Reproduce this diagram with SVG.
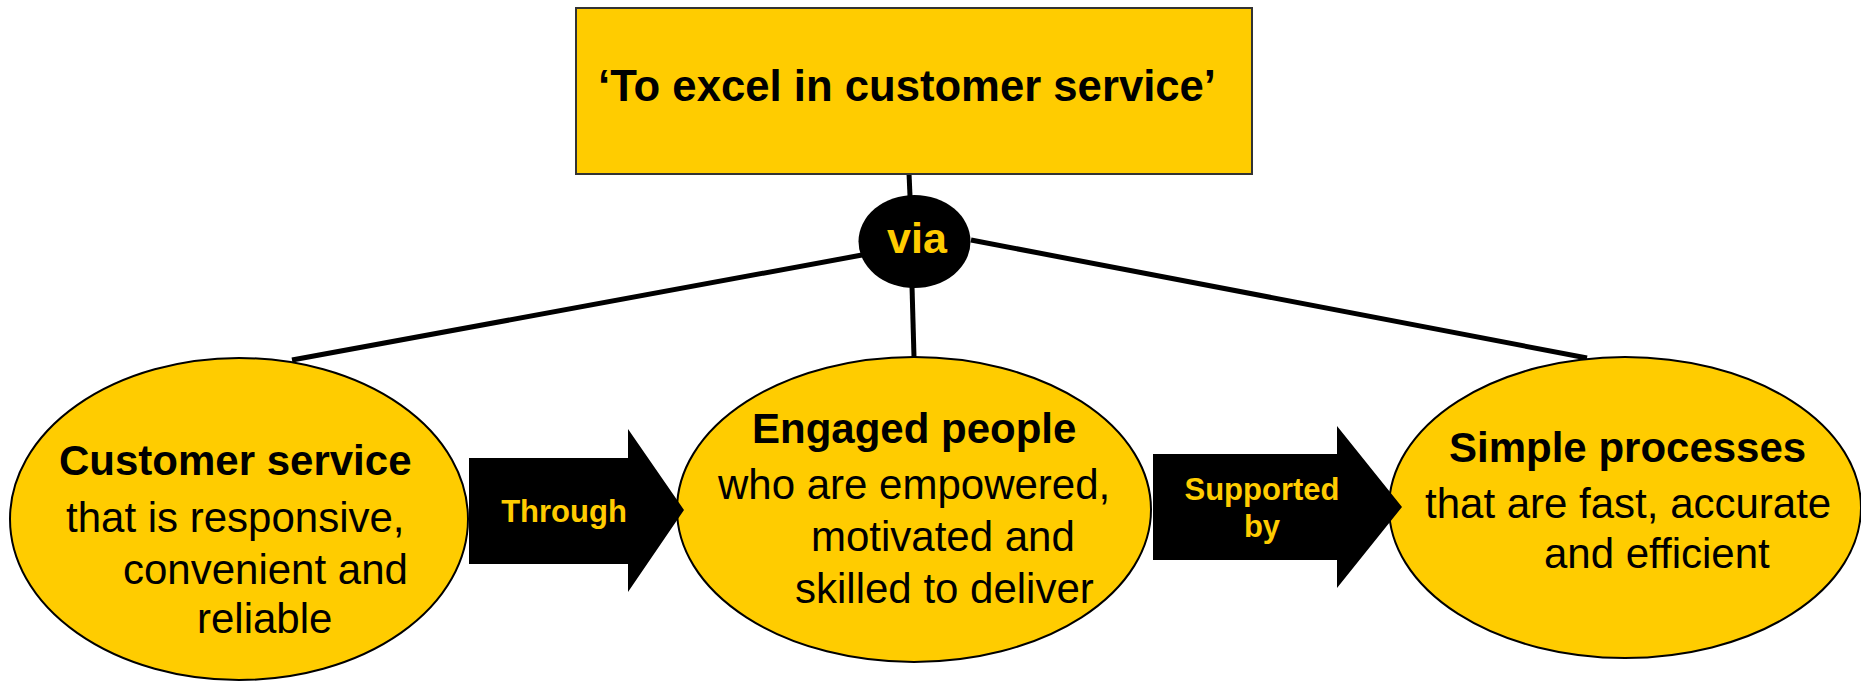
<svg xmlns="http://www.w3.org/2000/svg" width="1861" height="681" viewBox="0 0 1861 681">
  <style>
    .box { fill: #FFCC00; stroke: #333333; stroke-width: 2; }
    .oval { fill: #FFCC00; stroke: #000000; stroke-width: 2; }
    .link { stroke: #000000; stroke-width: 5; fill: none; stroke-linecap: butt; }
    .arrow { fill: #000000; }
    .t { font-family: "Liberation Sans", Arial, sans-serif; fill: #000000; }
    .big { font-size: 42px; }
    .bold { font-weight: bold; }
    .lbl { font-family: "Liberation Sans", Arial, sans-serif; font-weight: bold; fill: #FFCC00; font-size: 31px; }
  </style>

  <!-- connectors from the goal through "via" to the three pillars -->
  <g id="connectors">
    <line class="link" x1="909" y1="173" x2="910" y2="196"/>
    <line class="link" x1="862" y1="255" x2="292" y2="360"/>
    <line class="link" x1="971" y1="240" x2="1587" y2="358"/>
    <line class="link" x1="912" y1="286" x2="914" y2="357"/>
  </g>

  <g id="goal">
    <rect class="box" x="576" y="8" width="676" height="166"/>
    <text class="t bold" x="598" y="101" font-size="44" textLength="618" lengthAdjust="spacingAndGlyphs">‘To excel in customer service’</text>
  </g>

  <g id="via">
    <ellipse cx="914.5" cy="241.5" rx="56" ry="46.5" fill="#000000"/>
    <text class="lbl" x="917" y="253" text-anchor="middle" style="font-size:43px">via</text>
  </g>

  <g id="customer-service">
    <ellipse class="oval" cx="239" cy="519" rx="229" ry="161"/>
    <text class="t big bold" x="59" y="475">Customer service</text>
    <text class="t big" x="66" y="532">that is responsive,</text>
    <text class="t big" x="123" y="584">convenient and</text>
    <text class="t big" x="197" y="633">reliable</text>
  </g>

  <g id="engaged-people">
    <ellipse class="oval" cx="914" cy="509.5" rx="237" ry="152.5"/>
    <text class="t big bold" x="752" y="443">Engaged people</text>
    <text class="t big" x="718" y="499">who are empowered,</text>
    <text class="t big" x="811" y="551">motivated and</text>
    <text class="t big" x="795" y="603">skilled to deliver</text>
  </g>

  <g id="simple-processes">
    <ellipse class="oval" cx="1625" cy="507.5" rx="236" ry="150.5"/>
    <text class="t big bold" x="1449" y="462">Simple processes</text>
    <text class="t big" x="1425" y="518">that are fast, accurate</text>
    <text class="t big" x="1544" y="568">and efficient</text>
  </g>

  <g id="through">
    <polygon class="arrow" points="469,458 628,458 628,429 684,510 628,592 628,564 469,564"/>
    <text class="lbl" x="564" y="522" text-anchor="middle">Through</text>
  </g>

  <g id="supported-by">
    <polygon class="arrow" points="1153,454 1337,454 1337,426 1402,507 1337,588 1337,560 1153,560"/>
    <text class="lbl" x="1262" y="500" text-anchor="middle">Supported</text>
    <text class="lbl" x="1262" y="537" text-anchor="middle">by</text>
  </g>
</svg>
